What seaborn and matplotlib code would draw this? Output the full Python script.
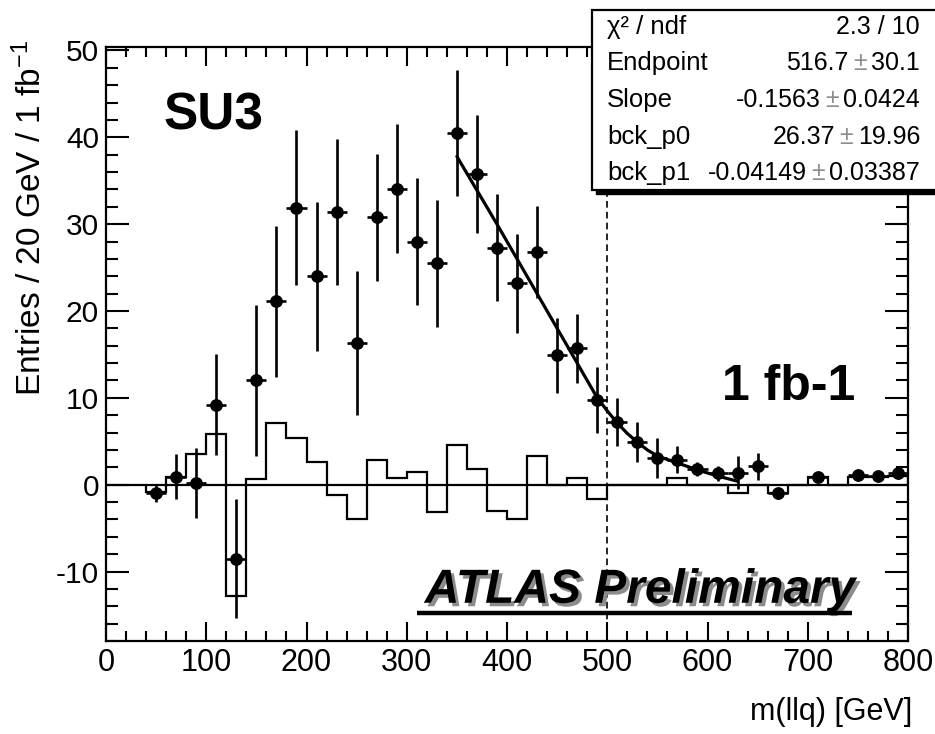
import matplotlib
matplotlib.use("Agg")
import matplotlib.pyplot as plt
import matplotlib.patheffects as pe
from matplotlib.patches import Rectangle
from matplotlib.lines import Line2D
from matplotlib.ticker import MultipleLocator
import numpy as np
import seaborn as sns

# ---------------- data ----------------
pts_x = [50, 70, 90, 110, 130, 150, 170, 190, 210, 230, 250, 270, 290, 310, 330,
         350, 370, 390, 410, 430, 450, 470, 490, 510, 530, 550, 570, 590, 610,
         630, 650, 670, 710, 750, 770, 790]
pts_y = [-1.0, 0.9, 0.2, 9.2, -8.5, 12.0, 21.1, 31.9, 24.0, 31.4, 16.3, 30.8, 34.1,
         28.0, 25.5, 40.5, 35.8, 27.3, 23.2, 26.8, 14.9, 15.7, 9.7, 7.2, 4.9, 3.1,
         2.9, 1.8, 1.3, 1.4, 2.1, -1.0, 0.9, 1.1, 1.0, 1.3]
pts_err = [1.0, 2.6, 4.0, 5.8, 6.8, 8.7, 8.7, 8.9, 8.6, 8.4, 8.3, 7.3, 7.4, 7.3, 7.3,
           7.3, 6.8, 6.2, 5.7, 5.3, 4.3, 4.0, 3.8, 2.8, 2.3, 2.3, 1.5, 0.8, 0.9,
           1.9, 1.6, 0.6, 0.5, 0.5, 0.5, 0.6]
bin_half_width = 10

hist_edges = list(range(40, 801, 20))
hist_vals = [-0.8, 0.85, 3.5, 5.8, -12.8, 0.7, 7.1, 5.4, 2.6, -1.2, -4.0, 2.9, 0.8,
             1.5, -3.1, 4.6, 1.8, -3.0, -3.9, 3.3, 0.0, 0.8, -1.6, 0.0, 0.0, 0.0,
             0.8, 0.0, 0.0, -0.9, 0.0, -0.9, 0.0, 0.9, 0.0, 0.9, 0.9, 1.0]

fit_x = [350, 370, 390, 410, 430, 450, 470, 490, 500, 510, 520, 530, 540, 550,
         570, 590, 610, 630]
fit_y = [37.8, 33.9, 30.0, 26.0, 22.0, 18.0, 14.0, 10.0, 8.5, 7.1, 5.9, 4.9, 4.0,
         3.3, 2.5, 1.7, 1.0, 0.4]

endpoint_line = 500

stats_labels = ["χ² / ndf", "Endpoint", "Slope", "bck_p0", "bck_p1"]
stats_vals = ["2.3 / 10", "516.7", "-0.1563", "26.37", "-0.04149"]
stats_errs = [None, "30.1", "0.0424", "19.96", "0.03387"]

x_label = "m(llq) [GeV]"
y_label = "Entries / 20 GeV / 1 fb$^{-1}$"

# ---------------- style ----------------
sns.set_theme(style="ticks")
plt.rcParams["font.family"] = ["Liberation Sans", "DejaVu Sans"]
plt.rcParams["mathtext.fontset"] = "custom"
plt.rcParams["mathtext.rm"] = "Liberation Sans"
plt.rcParams["mathtext.it"] = "Liberation Sans:italic"
plt.rcParams["mathtext.bf"] = "Liberation Sans:bold"
plt.rcParams["axes.unicode_minus"] = False

W, H = 935, 734
fig = plt.figure(figsize=(W / 100, H / 100), dpi=100)
fig.patch.set_facecolor("white")
L, R, T, B = 106, 908, 47, 641
ax = fig.add_axes([L / W, 1 - B / H, (R - L) / W, (B - T) / H])
ax.set_facecolor("white")

# histogram
ax.stairs(hist_vals, hist_edges, baseline=0, color="black", lw=1.6, zorder=2)
ax.axhline(0, color="black", lw=1.6, zorder=2)
ax.axvline(endpoint_line, color="black", lw=1.2, ls=(0, (4, 2.5)), zorder=2)

# data points
ax.errorbar(pts_x, pts_y, yerr=pts_err, xerr=bin_half_width, fmt="none",
            ecolor="black", elinewidth=1.9, capsize=0, zorder=3)
sns.scatterplot(x=pts_x, y=pts_y, color="black", s=85, marker="o",
                edgecolor="black", linewidth=0, ax=ax, zorder=4, legend=False)

# fit curve
sns.lineplot(x=fit_x, y=fit_y, color="black", lw=2.3, ax=ax, zorder=5,
             legend=False, sort=False)

ax.set_xlim(0, 800)
ax.set_ylim(-18, 50.4)
ax.xaxis.set_major_locator(MultipleLocator(100))
ax.xaxis.set_minor_locator(MultipleLocator(20))
ax.yaxis.set_major_locator(MultipleLocator(10))
ax.yaxis.set_minor_locator(MultipleLocator(2))
ax.tick_params(which="both", direction="in", top=True, right=True, width=1.5,
               color="black", labelcolor="black")
ax.tick_params(axis="x", which="major", length=14, labelsize=22, pad=5)
ax.tick_params(axis="x", which="minor", length=7)
ax.tick_params(axis="y", which="major", length=16.5, labelsize=21.5, pad=5)
ax.tick_params(axis="y", which="minor", length=8.5)
for s in ax.spines.values():
    s.set_linewidth(1.6)
    s.set_color("black")

ax.set_xlabel(x_label, fontsize=22, loc="right", color="black")
ax.xaxis.set_label_coords(1.005, -0.094)
ax.set_ylabel(y_label, fontsize=24, loc="top", color="black")
ax.yaxis.set_label_coords(-0.072, 1.012)

# annotations
ax.text(57, 40.9, "SU3", fontsize=37, fontweight="bold", va="baseline",
        ha="left", color="black", zorder=6)
ax.text(614, 9.7, "1 fb-1", fontsize=36, fontweight="bold", va="baseline",
        ha="left", color="black", zorder=6)
shadow = [pe.SimplePatchShadow(offset=(2.5, -2.5), shadow_rgbFace="0.55", alpha=1.0),
          pe.Normal()]
ax.text(318, -13.6, "ATLAS Preliminary", fontsize=34.5, fontweight="bold",
        style="italic", va="baseline", ha="left", color="black", zorder=6,
        path_effects=shadow)
ax.add_line(Line2D([(417 - L) / (R - L), (852 - L) / (R - L)],
                   [(B - 613) / (B - T)] * 2, transform=ax.transAxes,
                   color="black", lw=3.2, solid_capstyle="butt", zorder=6,
                   path_effects=shadow))

# stats box
bx0, by0, bx1, by1 = 592, 10, 945, 190
fig.patches.append(Rectangle(((bx0 + 4) / W, 1 - (by1 + 4) / H), (bx1 - bx0) / W,
                             (by1 - by0) / H, transform=fig.transFigure,
                             facecolor="black", edgecolor="black", zorder=10))
fig.patches.append(Rectangle((bx0 / W, 1 - by1 / H), (bx1 - bx0) / W,
                             (by1 - by0) / H, transform=fig.transFigure,
                             facecolor="white", edgecolor="black", lw=1.6,
                             zorder=11))
row_y = [27, 63, 100, 137, 173]
fig.canvas.draw()
renderer = fig.canvas.get_renderer()
gap = 4.5
for lab, val, err, ry in zip(stats_labels, stats_vals, stats_errs, row_y):
    yy = 1 - ry / H
    fig.text(607 / W, yy, lab, fontsize=18.5, ha="left", va="center",
             color="black", zorder=12)
    if err is None:
        fig.text(920 / W, yy, val, fontsize=18, ha="right", va="center",
                 color="black", zorder=12)
        continue
    t_err = fig.text(920 / W, yy, err, fontsize=18, ha="right", va="center",
                     color="black", zorder=12)
    x0 = t_err.get_window_extent(renderer).x0
    t_pm = fig.text((x0 - gap) / W, yy, "±", fontsize=18, ha="right",
                    va="center", color="0.55", zorder=12)
    x1 = t_pm.get_window_extent(renderer).x0
    fig.text((x1 - gap) / W, yy, val, fontsize=18, ha="right", va="center",
             color="black", zorder=12)

fig.savefig("out.png", dpi=100)
